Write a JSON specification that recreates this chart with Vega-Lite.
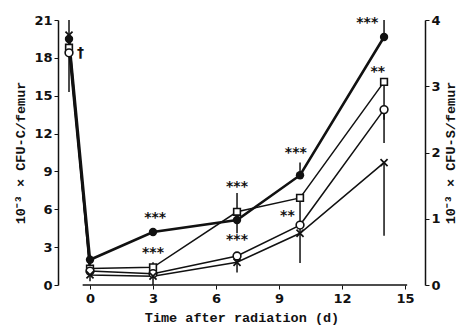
{
  "$schema": "https://vega.github.io/schema/vega-lite/v6.json",
  "autosize": {"type": "none"},
  "padding": {"left": 58, "top": 20, "right": 41, "bottom": 47},
  "width": 367,
  "height": 265,
  "background": "white",
  "config": {
    "view": {"stroke": null},
    "axis": {"domainColor": "#111", "tickColor": "#111", "labelColor": "#111", "titleColor": "#111", "grid": false,
      "labelFont": "DejaVu Sans", "labelFontSize": 13, "labelFontWeight": "bold", "labelOverlap": false,
      "titleFont": "Liberation Mono", "titleFontSize": 13.5, "titleFontWeight": "bold", "domainWidth": 1.5}
  },
  "datasets": {
    "pts": [
      {"series": "filled", "day": -1, "v": 19.5}, {"series": "filled", "day": 0, "v": 2.0}, {"series": "filled", "day": 3, "v": 4.2}, {"series": "filled", "day": 7, "v": 5.15}, {"series": "filled", "day": 10, "v": 8.7}, {"series": "filled", "day": 14, "v": 19.65},
      {"series": "square", "day": -1, "v": 18.8}, {"series": "square", "day": 0, "v": 1.3}, {"series": "square", "day": 3, "v": 1.4}, {"series": "square", "day": 7, "v": 5.8}, {"series": "square", "day": 10, "v": 6.9}, {"series": "square", "day": 14, "v": 16.1},
      {"series": "circle", "day": -1, "v": 18.4}, {"series": "circle", "day": 0, "v": 1.1}, {"series": "circle", "day": 3, "v": 0.9}, {"series": "circle", "day": 7, "v": 2.3}, {"series": "circle", "day": 10, "v": 4.75}, {"series": "circle", "day": 14, "v": 13.9},
      {"series": "cross", "day": -1, "v": 19.8}, {"series": "cross", "day": 0, "v": 0.8}, {"series": "cross", "day": 3, "v": 0.7}, {"series": "cross", "day": 7, "v": 1.8}, {"series": "cross", "day": 10, "v": 4.1}, {"series": "cross", "day": 14, "v": 9.7}
    ],
    "err": [
      {"day": -1, "v": 15.3, "v2": 21.0},
      {"day": 0, "v": 0.3, "v2": 2.4},
      {"day": 3, "v": 0.0, "v2": 1.8},
      {"day": 7, "v": 4.1, "v2": 7.3},
      {"day": 7, "v": 1.0, "v2": 2.3},
      {"day": 10, "v": 1.75, "v2": 6.9},
      {"day": 10, "v": 8.7, "v2": 9.7},
      {"day": 14, "v": 19.65, "v2": 21.0},
      {"day": 14, "v": 13.1, "v2": 16.1},
      {"day": 14, "v": 11.25, "v2": 13.9},
      {"day": 14, "v": 3.9, "v2": 9.7}
    ],
    "labels": [
      {"day": 3.1, "v": 5.3, "t": "***"},
      {"day": 3.0, "v": 2.5, "t": "***"},
      {"day": 7.0, "v": 7.8, "t": "***"},
      {"day": 7.0, "v": 3.6, "t": "***"},
      {"day": 9.8, "v": 10.5, "t": "***"},
      {"day": 9.4, "v": 5.5, "t": "**"},
      {"day": 13.2, "v": 20.8, "t": "***"},
      {"day": 13.7, "v": 16.9, "t": "**"},
      {"day": -0.45, "v": 18.4, "t": "†"}
    ],
    "xaxis": [{"day": -0.35, "day2": 15.1, "v": 0}],
    "right": [{"r": 0}, {"r": 4}]
  },
  "layer": [
    {
      "encoding": {
        "x": {"field": "day", "type": "quantitative", "scale": {"domain": [-1.524, 15.95], "nice": false, "zero": false},
          "axis": {"values": [0, 3, 6, 9, 12, 15], "domain": false, "title": "Time after radiation (d)", "titlePadding": 5, "tickSize": 4, "labelPadding": 3}},
        "y": {"field": "v", "type": "quantitative", "scale": {"domain": [0, 21], "nice": false},
          "axis": {"orient": "left", "values": [0, 3, 6, 9, 12, 15, 18, 21], "tickCount": 8, "labelOverlap": false, "title": "10⁻³ × CFU-C/femur", "titlePadding": 6, "tickSize": 4, "labelPadding": 2}}
      },
      "layer": [
        {
          "data": {"name": "xaxis"},
          "mark": {"type": "rule", "color": "#111", "strokeWidth": 1.5},
          "encoding": {"x2": {"field": "day2"}}
        },
        {
          "data": {"name": "err"},
          "mark": {"type": "rule", "color": "#111", "strokeWidth": 1.5},
          "encoding": {"y2": {"field": "v2"}}
        },
        {
          "data": {"name": "pts"},
          "transform": [{"filter": "datum.series !== 'filled'"}],
          "mark": {"type": "line", "color": "#111", "strokeWidth": 1.5},
          "encoding": {"detail": {"field": "series"}}
        },
        {
          "data": {"name": "pts"},
          "transform": [{"filter": "datum.series === 'filled'"}],
          "mark": {"type": "line", "color": "#111", "strokeWidth": 2.6},
          "encoding": {}
        },
        {
          "data": {"name": "pts"},
          "transform": [{"filter": "datum.series === 'filled'"}],
          "mark": {"type": "point", "shape": "circle", "filled": true, "color": "#111", "size": 70, "opacity": 1}
        },
        {
          "data": {"name": "pts"},
          "transform": [{"filter": "datum.series === 'square'"}],
          "mark": {"type": "point", "shape": "square", "fill": "white", "stroke": "#111", "strokeWidth": 1.6, "size": 45, "opacity": 1}
        },
        {
          "data": {"name": "pts"},
          "transform": [{"filter": "datum.series === 'circle'"}],
          "mark": {"type": "point", "shape": "circle", "fill": "white", "stroke": "#111", "strokeWidth": 1.6, "size": 60, "opacity": 1}
        },
        {
          "data": {"name": "pts"},
          "transform": [{"filter": "datum.series === 'cross'"}],
          "mark": {"type": "point", "shape": "M-1,-1L1,1M1,-1L-1,1", "filled": false, "stroke": "#111", "strokeWidth": 1.7, "size": 50, "opacity": 1}
        },
        {
          "data": {"name": "labels"},
          "mark": {"type": "text", "font": "DejaVu Sans", "fontSize": 14, "fontWeight": "bold", "color": "#111", "baseline": "middle"},
          "encoding": {"text": {"field": "t"}}
        }
      ]
    },
    {
      "data": {"name": "right"},
      "mark": {"type": "rule", "opacity": 0},
      "encoding": {
        "y": {"field": "r", "type": "quantitative", "scale": {"domain": [0, 4], "nice": false},
          "axis": {"orient": "right", "values": [0, 1, 2, 3, 4], "title": "10⁻³ × CFU-S/femur", "titleAngle": 270, "titleBaseline": "top", "titlePadding": 3, "tickSize": 4, "labelPadding": 2}}
      }
    }
  ],
  "resolve": {"scale": {"y": "independent"}}
}
